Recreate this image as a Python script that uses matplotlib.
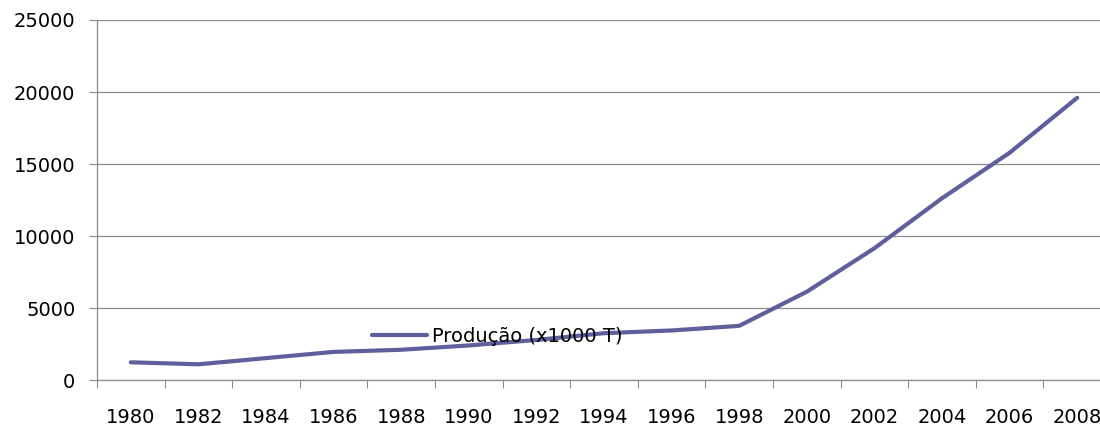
import matplotlib
matplotlib.use("Agg")
import matplotlib.pyplot as plt
import numpy as np

# Dados
anos = ['1980', '1982', '1984', '1986', '1988', '1990', '1992', '1994',
        '1996', '1998', '2000', '2002', '2004', '2006', '2008']
producao = [1230, 1090, 1520, 1950, 2100, 2400, 2780, 3250,
            3440, 3760, 6130, 9150, 12620, 15780, 19600]
serie_nome = 'Produção (x1000 T)'
y_ticks = [0, 5000, 10000, 15000, 20000, 25000]

LINE_COLOR = '#5f5f9c'
GRID_COLOR = '#8c8c8c'

plt.rcParams['font.family'] = ['DejaVu Sans']

fig = plt.figure(figsize=(11, 4.32), dpi=100)
ax = fig.add_axes([97 / 1100, 1 - 380 / 432, 1014 / 1100, 360 / 432])

x = np.arange(len(anos))
ax.plot(x, producao, color=LINE_COLOR, linewidth=3, solid_capstyle='round',
        solid_joinstyle='round', label=serie_nome, zorder=3)

ax.set_xlim(-0.5, len(anos) - 0.5)
ax.set_ylim(0, 25000)

# eixo y
ax.set_yticks(y_ticks)
ax.set_yticklabels([str(v) for v in y_ticks], fontsize=14)
ax.tick_params(axis='y', direction='out', length=5.5, width=0.8,
               color=GRID_COLOR, pad=10)
ax.yaxis.grid(True, color=GRID_COLOR, linewidth=0.9)
ax.set_axisbelow(True)

# eixo x: marcas nas fronteiras, rótulos no centro
ax.set_xticks(np.arange(-0.5, len(anos) + 0.5, 1.0))
ax.set_xticklabels([])
ax.set_xticks(x, minor=True)
ax.set_xticklabels(anos, minor=True, fontsize=14)
ax.tick_params(axis='x', which='major', direction='out', length=6,
               width=0.8, color=GRID_COLOR)
ax.tick_params(axis='x', which='minor', length=0, pad=20)

for s in ['top', 'right']:
    ax.spines[s].set_visible(False)
for s in ['left', 'bottom']:
    ax.spines[s].set_color(GRID_COLOR)
    ax.spines[s].set_linewidth(0.9)

fig.legend(loc='center left', bbox_to_anchor=(372 / 1100, 1 - 336 / 432),
           frameon=False, fontsize=14, handlelength=2.85, handletextpad=0.25,
           borderpad=0, borderaxespad=0)

fig.savefig('out.png', dpi=100)
